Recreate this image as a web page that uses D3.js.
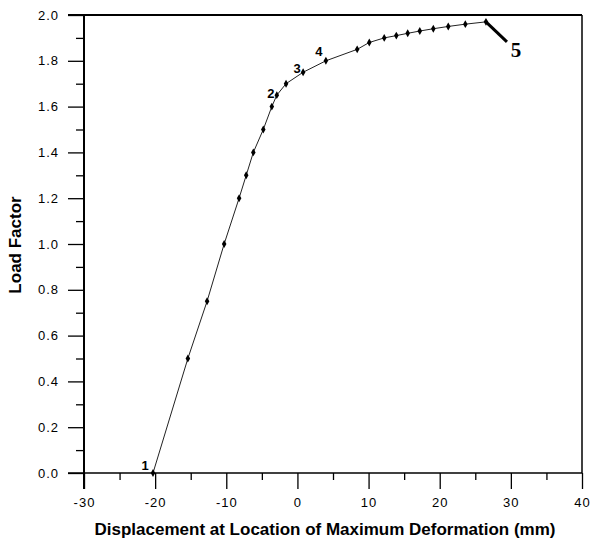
<!DOCTYPE html>
<html lang="en">
<meta charset="utf-8">
<head>
	<title>Load Factor vs Displacement</title>
	<script src="https://d3js.org/d3.v7.min.js"></script>
</head>

<style type="text/css">
	body { margin: 0; background: white; }

	.tickLabel text {
		font-family: 'Liberation Sans', Arial, sans-serif;
		font-size: 13px;
		letter-spacing: 1px;
		fill: black;
	}

	.axisTitle {
		font-family: 'Liberation Sans', Arial, sans-serif;
		font-weight: 700;
		font-size: 17px;
	}

	.pointLabel {
		font-family: 'Liberation Sans', Arial, sans-serif;
		font-weight: 700;
		font-size: 13px;
	}

	.calloutLabel {
		font-family: 'Liberation Serif', 'Times New Roman', serif;
		font-weight: 700;
		font-size: 21px;
	}

	.curve {
		fill: none;
		stroke: #222;
		stroke-width: 1;
	}
</style>

<body>
	<script type="text/javascript">

		// displacement (mm) and load factor
		var displacement = [-20.3, -15.4, -12.7, -10.3, -8.2, -7.2, -6.2, -4.8, -3.6, -2.9, -1.6, 0.8, 4.0,
							8.4, 10.1, 12.2, 13.9, 15.5, 17.2, 19.1, 21.2, 23.6, 26.5];
		var loadFactor = [0.0, 0.5, 0.75, 1.0, 1.2, 1.3, 1.4, 1.5, 1.6, 1.65, 1.7, 1.75, 1.8,
						  1.85, 1.88, 1.9, 1.91, 1.92, 1.93, 1.94, 1.95, 1.96, 1.97];

		// numbered stages and the point they mark
		var stageNames = ["1", "2", "3", "4", "5"];
		var stagePoint = [0, 9, 11, 12, 22];

		var xTicks = [-30, -20, -10, 0, 10, 20, 30, 40];
		var yTicks = [0.0, 0.2, 0.4, 0.6, 0.8, 1.0, 1.2, 1.4, 1.6, 1.8, 2.0];

		var canvasWidth = 590,
			canvasHeight = 542,
			plotLeft = 84,
			plotRight = 582,
			plotTop = 15,
			plotBottom = 473;

		var svg = d3.select("body")
					.append("svg")
					.attr("width", canvasWidth)
					.attr("height", canvasHeight);

		var x = d3.scaleLinear().domain([-30, 40]).range([plotLeft, plotRight]);
		var y = d3.scaleLinear().domain([0, 2]).range([plotBottom, plotTop]);

		// minor ticks
		svg.append("g")
		   .attr("transform", "translate(0," + plotBottom + ")")
		   .call(d3.axisBottom(x).tickValues(d3.range(-25, 40, 10)).tickSize(7).tickFormat(""))
		   .call(function(g) { g.select(".domain").remove(); });

		svg.append("g")
		   .attr("transform", "translate(" + plotLeft + ",0)")
		   .call(d3.axisLeft(y).tickValues(d3.range(0.1, 2, 0.2)).tickSize(8).tickFormat(""))
		   .call(function(g) { g.select(".domain").remove(); });

		// major ticks with labels
		var xAxis = svg.append("g")
					   .attr("class", "tickLabel")
					   .attr("transform", "translate(0," + plotBottom + ")")
					   .call(d3.axisBottom(x).tickValues(xTicks).tickSize(16).tickPadding(9)
					   .tickFormat(function(d) { return d3.format("d")(d).replace("−", "-"); }));

		var yAxis = svg.append("g")
					   .attr("class", "tickLabel")
					   .attr("transform", "translate(" + plotLeft + ",0)")
					   .call(d3.axisLeft(y).tickValues(yTicks).tickSize(16).tickPadding(9)
					   .tickFormat(d3.format(".1f")));

		xAxis.select(".domain").remove();
		yAxis.select(".domain").remove();
		svg.selectAll(".tick line").attr("stroke", "black").attr("stroke-width", 1.3);

		// frame: left/bottom axes and the top/right borders
		svg.append("line").attr("x1", plotLeft).attr("x2", plotLeft).attr("y1", plotTop).attr("y2", plotBottom + 16)
		   .attr("stroke", "black").attr("stroke-width", 2);
		svg.append("line").attr("x1", plotLeft - 16).attr("x2", plotRight).attr("y1", plotBottom).attr("y2", plotBottom)
		   .attr("stroke", "black").attr("stroke-width", 1.5);
		svg.append("line").attr("x1", plotLeft - 16).attr("x2", plotRight).attr("y1", plotTop).attr("y2", plotTop)
		   .attr("stroke", "black").attr("stroke-width", 2);
		svg.append("line").attr("x1", plotRight).attr("x2", plotRight).attr("y1", plotTop).attr("y2", plotBottom)
		   .attr("stroke", "black").attr("stroke-width", 1.5);

		var points = displacement.map(function(d, i) { return [d, loadFactor[i]]; });

		var line = d3.line()
					 .x(function(d) { return x(d[0]); })
					 .y(function(d) { return y(d[1]); });

		svg.append("path")
		   .datum(points)
		   .attr("class", "curve")
		   .attr("d", line);

		svg.selectAll(".marker")
		   .data(points)
		   .enter()
		   .append("path")
		   .attr("class", "marker")
		   .attr("transform", function(d) { return "translate(" + x(d[0]) + "," + y(d[1]) + ")"; })
		   .attr("d", d3.symbol().type(d3.symbolDiamond).size(18))
		   .attr("fill", "black");

		// stage numbers 1-4 next to their points
		var labelOffset = [[-8, -3], [-6, 3], [-6, 1], [-7, -5]];
		for (var i = 0; i < 4; i++) {
			var p = points[stagePoint[i]];
			svg.append("text")
			   .attr("class", "pointLabel")
			   .attr("text-anchor", "middle")
			   .attr("x", x(p[0]) + labelOffset[i][0])
			   .attr("y", y(p[1]) + labelOffset[i][1])
			   .text(stageNames[i]);
		}

		// stage 5 with a callout line
		var p5 = points[stagePoint[4]];
		svg.append("line")
		   .attr("x1", x(p5[0])).attr("y1", y(p5[1]))
		   .attr("x2", x(p5[0]) + 21).attr("y2", y(p5[1]) + 20)
		   .attr("stroke", "black").attr("stroke-width", 3);
		svg.append("text")
		   .attr("class", "calloutLabel")
		   .attr("text-anchor", "middle")
		   .attr("x", x(p5[0]) + 30)
		   .attr("y", y(p5[1]) + 35)
		   .text(stageNames[4]);

		// axis titles
		svg.append("text")
		   .attr("class", "axisTitle")
		   .attr("text-anchor", "middle")
		   .attr("x", 325)
		   .attr("y", 535)
		   .text("Displacement at Location of Maximum Deformation (mm)");

		svg.append("text")
		   .attr("class", "axisTitle")
		   .attr("text-anchor", "middle")
		   .attr("transform", "translate(21,245)rotate(-90)")
		   .text("Load Factor");

	</script>
</body>
</html>
